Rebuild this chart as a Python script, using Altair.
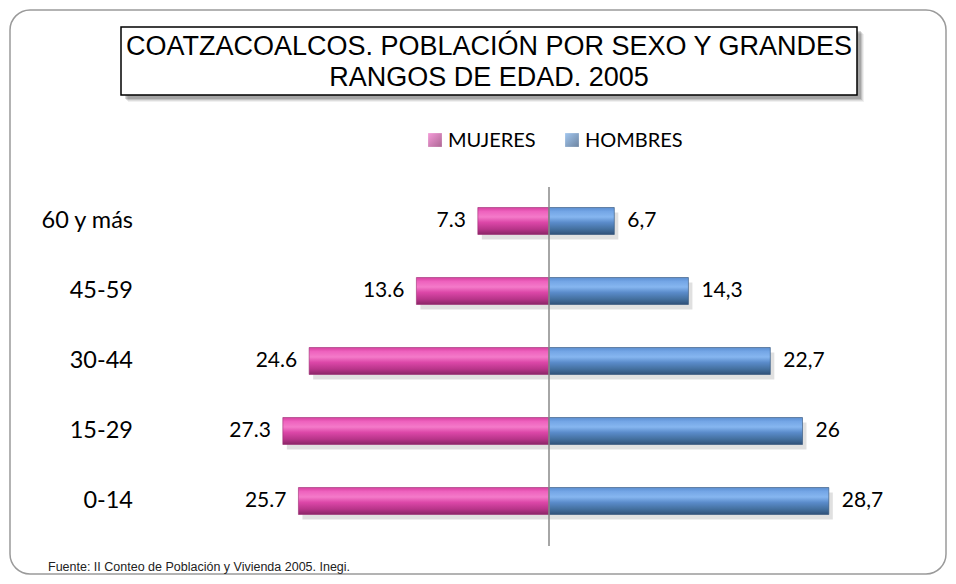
import altair as alt
import pandas as pd

# ---- data ----
edades = ["60 y más", "45-59", "30-44", "15-29", "0-14"]
mujeres = [7.3, 13.6, 24.6, 27.3, 25.7]
hombres = [6.7, 14.3, 22.7, 26, 28.7]
etiq_mujeres = ["7.3", "13.6", "24.6", "27.3", "25.7"]
etiq_hombres = ["6,7", "14,3", "22,7", "26", "28,7"]
titulo = ["COATZACOALCOS. POBLACIÓN POR SEXO Y GRANDES", "RANGOS DE EDAD. 2005"]
series = ["MUJERES", "HOMBRES"]
fuente = "Fuente: II Conteo de Población y Vivienda 2005. Inegi."

df = pd.DataFrame({
    "edad": edades,
    "mujeres": mujeres,
    "neg": [-v for v in mujeres],
    "hombres": hombres,
    "lab_m": etiq_mujeres,
    "lab_h": etiq_hombres,
})

W, H = 940, 568
CENTER = 541.0      # pixel of zero
PPU = 9.75          # pixels per unit
xscale = alt.Scale(domain=[-CENTER / PPU, (W - CENTER) / PPU], nice=False, zero=False)
yscale = alt.Scale(domain=edades, range=[178, 528], paddingInner=0, paddingOuter=0)

X = lambda f: alt.X(f, type="quantitative", scale=xscale, axis=None)
Y = alt.Y("edad:N", scale=yscale, axis=None, sort=edades)

dummy = pd.DataFrame({"a": [0]})
base = alt.Chart(dummy)

pink_grad = alt.Gradient(
    gradient="linear", x1=0, x2=0, y1=0, y2=1,
    stops=[
        alt.GradientStop(color="#D6409F", offset=0),
        alt.GradientStop(color="#EE62BE", offset=0.15),
        alt.GradientStop(color="#F47AC9", offset=0.35),
        alt.GradientStop(color="#DC47A8", offset=0.55),
        alt.GradientStop(color="#B8358A", offset=0.8),
        alt.GradientStop(color="#8A2566", offset=1),
    ],
)
blue_grad = alt.Gradient(
    gradient="linear", x1=0, x2=0, y1=0, y2=1,
    stops=[
        alt.GradientStop(color="#5B8ED0", offset=0),
        alt.GradientStop(color="#74A6E6", offset=0.15),
        alt.GradientStop(color="#86B6F0", offset=0.35),
        alt.GradientStop(color="#5B8CCB", offset=0.55),
        alt.GradientStop(color="#44709F", offset=0.8),
        alt.GradientStop(color="#2F5078", offset=1),
    ],
)
pink_sq = alt.Gradient(
    gradient="linear", x1=0, x2=1, y1=0, y2=1,
    stops=[alt.GradientStop(color="#F070C8", offset=0), alt.GradientStop(color="#8A2566", offset=1)],
)
blue_sq = alt.Gradient(
    gradient="linear", x1=0, x2=1, y1=0, y2=1,
    stops=[alt.GradientStop(color="#7AAEE8", offset=0), alt.GradientStop(color="#2F5078", offset=1)],
)

# outer rounded border
border = base.mark_rect(fill="white", stroke="#9a9a9a", strokeWidth=1.5, cornerRadius=20).encode(
    x=alt.value(2), x2=alt.value(938), y=alt.value(2), y2=alt.value(566)
)

# title box with shadow
shadows = [
    base.mark_rect(fill="#000000", opacity=op).encode(
        x=alt.value(113 + d), x2=alt.value(849 + d), y=alt.value(19 + d), y2=alt.value(87 + d)
    )
    for d, op in [(7, 0.06), (6, 0.08), (5, 0.12), (4, 0.15)]
]
title_box = base.mark_rect(fill="white", stroke="black", strokeWidth=1.5).encode(
    x=alt.value(113), x2=alt.value(849), y=alt.value(19), y2=alt.value(87)
)
title_txt = base.mark_text(
    text=titulo, font="Liberation Sans", fontSize=27, lineHeight=30.5,
    align="center", baseline="middle", color="black",
).encode(x=alt.value(481), y=alt.value(39))

# legend
leg_sq_m = base.mark_square(size=190, color=pink_sq).encode(x=alt.value(427), y=alt.value(132))
leg_sq_h = base.mark_square(size=190, color=blue_sq).encode(x=alt.value(564), y=alt.value(132))
leg_t_m = base.mark_text(text=series[0], font="Lato", fontSize=20, align="left", baseline="middle").encode(
    x=alt.value(440), y=alt.value(133))
leg_t_h = base.mark_text(text=series[1], font="Lato", fontSize=20, align="left", baseline="middle").encode(
    x=alt.value(577), y=alt.value(133))

main = alt.Chart(df)

shadow_m = main.mark_bar(size=27, color="#000000", opacity=0.12, xOffset=4, yOffset=5).encode(x=X("neg"), y=Y)
shadow_h = main.mark_bar(size=27, color="#000000", opacity=0.12, xOffset=4, yOffset=5).encode(x=X("hombres"), y=Y)

bar_m = main.mark_bar(size=27, color=pink_grad, stroke="#9A2A72", strokeWidth=0.6).encode(x=X("neg"), y=Y)
bar_h = main.mark_bar(size=27, color=blue_grad, stroke="#2F5078", strokeWidth=0.6).encode(x=X("hombres"), y=Y)

axis_rule = base.mark_rule(color="#888888", strokeWidth=1.5).encode(
    x=alt.X("z:Q", scale=xscale, axis=None), y=alt.value(179), y2=alt.value(538)
).transform_calculate(z="0")

txt_m = main.mark_text(font="Lato", fontSize=21, align="right", baseline="middle", dx=-12, color="black").encode(
    x=X("neg"), y=Y, text="lab_m:N")
txt_h = main.mark_text(font="Lato", fontSize=21, align="left", baseline="middle", dx=13, color="black").encode(
    x=X("hombres"), y=Y, text="lab_h:N")

cat_txt = main.mark_text(font="Lato", fontSize=23.5, align="right", baseline="middle", color="black").encode(
    x=alt.value(125), y=Y, text="edad:N")

foot = base.mark_text(text=fuente, font="Liberation Sans", fontSize=12.5, align="left", baseline="alphabetic",
                      color="#222222").encode(x=alt.value(40), y=alt.value(563))

chart = alt.layer(
    border, *shadows, title_box, title_txt,
    leg_sq_m, leg_sq_h, leg_t_m, leg_t_h,
    shadow_m, shadow_h, bar_m, bar_h, axis_rule,
    txt_m, txt_h, cat_txt, foot,
).properties(
    width=W, height=H, padding=0,
    autosize=alt.AutoSizeParams(type="none"),
).configure_view(stroke=None)

chart.save("out.html", embed_options={"renderer": "svg", "actions": False})
